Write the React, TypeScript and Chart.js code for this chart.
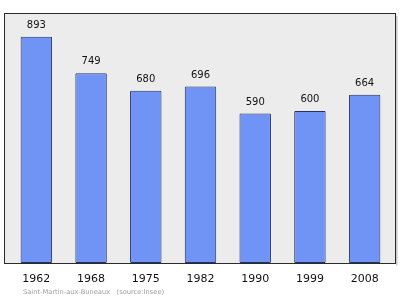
import React, { useEffect, useRef } from "react";
import { Chart, registerables } from "chart.js";

Chart.register(...registerables);

const years = ["1962", "1968", "1975", "1982", "1990", "1999", "2008"];
const population = [893, 749, 680, 696, 590, 600, 664];
const footnote = "Saint-Martin-aux-Buneaux   (source:Insee)";

const FONT = "'DejaVu Sans', sans-serif";

// Grey panel with a dark frame behind the bars
const framePlugin = {
  id: "frame",
  beforeDraw(chart: any) {
    const { ctx, chartArea } = chart;
    const x0 = chartArea.left - 4.5;
    const x1 = chartArea.right + 3.5;
    const y0 = chartArea.top - 0.5;
    const y1 = chartArea.bottom + 0.5;
    ctx.save();
    ctx.fillStyle = "#ffffff";
    ctx.fillRect(0, 0, chart.width, chart.height);
    ctx.fillStyle = "#c8c8c8";
    ctx.fillRect(x1 + 0.5, y0 + 2, 1.5, y1 - y0);
    ctx.fillStyle = "#ececec";
    ctx.fillRect(x0, y0, x1 - x0, y1 - y0);
    ctx.strokeStyle = "#2b2b2b";
    ctx.lineWidth = 1;
    ctx.strokeRect(x0, y0, x1 - x0, y1 - y0);
    ctx.restore();
  },
  afterDraw(chart: any) {
    const { ctx } = chart;
    ctx.save();
    ctx.fillStyle = "#a0a0a0";
    ctx.font = `6.7px ${FONT}`;
    ctx.textAlign = "left";
    ctx.textBaseline = "middle";
    ctx.fillText(footnote, 23, 292);
    ctx.restore();
  },
};

// Population figure above each bar
const valueLabels = {
  id: "valueLabels",
  afterDatasetsDraw(chart: any) {
    const { ctx } = chart;
    const meta = chart.getDatasetMeta(0);
    ctx.save();
    ctx.fillStyle = "#111111";
    ctx.font = `10px ${FONT}`;
    ctx.textAlign = "center";
    ctx.textBaseline = "middle";
    meta.data.forEach((bar: any, i: number) => {
      ctx.fillText(String(population[i]), bar.x, bar.y - 11.5);
    });
    ctx.restore();
  },
};

export default function App() {
  const canvasRef = useRef<HTMLCanvasElement | null>(null);

  useEffect(() => {
    if (!canvasRef.current) return;
    const chart = new Chart(canvasRef.current, {
      type: "bar",
      data: {
        labels: years,
        datasets: [
          {
            data: population,
            backgroundColor: "#7093f6",
            borderColor: "#25305a",
            borderWidth: 1,
            borderRadius: 1,
            borderSkipped: false,
            barPercentage: 1,
            categoryPercentage: 0.575,
          },
        ],
      },
      options: {
        responsive: false,
        animation: false,
        devicePixelRatio: 1,
        layout: { padding: { left: 9, right: 8, top: 14, bottom: 0 } },
        plugins: {
          legend: { display: false },
          tooltip: { enabled: false },
          title: { display: false },
        },
        scales: {
          x: {
            grid: { display: false, drawTicks: false },
            border: { display: false },
            ticks: {
              color: "#111111",
              font: { family: "'DejaVu Sans', sans-serif", size: 11 },
              padding: 10,
              maxRotation: 0,
              autoSkip: false,
            },
            afterFit: (scale: any) => {
              scale.height = 36;
            },
          },
          y: {
            display: false,
            min: 0,
            max: 893 * 1.1,
          },
        },
      },
      plugins: [framePlugin, valueLabels],
    });
    return () => chart.destroy();
  }, []);

  return (
    <div style={{ position: "absolute", left: 0, top: 0, width: 400, height: 299 }}>
      <canvas ref={canvasRef} width={400} height={299} style={{ display: "block" }} />
    </div>
  );
}
